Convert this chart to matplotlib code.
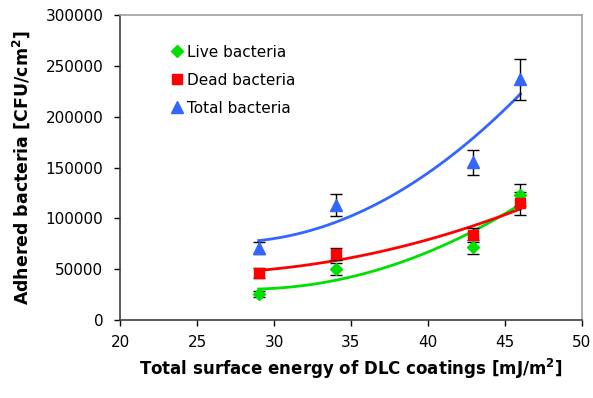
import matplotlib
matplotlib.use("Agg")
import matplotlib.pyplot as plt
from matplotlib.lines import Line2D
import numpy as np

plt.rcParams['font.family'] = ['DejaVu Sans']

# surface energy of the coatings
energy = [29.0, 34.0, 42.9, 46.0]

live = [25600, 49900, 72100, 122900]
live_err = [3000, 6000, 7000, 11000]
dead = [45900, 64900, 83600, 114700]
dead_err = [5000, 5800, 6500, 11000]
total = [70500, 113100, 155100, 236700]
total_err = [6000, 10700, 12000, 20600]

labels = ["Live bacteria", "Dead bacteria", "Total bacteria"]

fig = plt.figure(figsize=(5.93, 3.98), dpi=100)
ax = fig.add_axes([0.2024, 0.196, 0.779, 0.766])

series = [
    (live, live_err, '#00e000', 'D', 6),
    (dead, dead_err, '#ff0000', 's', 7),
    (total, total_err, '#3366ff', '^', 8.5),
]

xs = np.linspace(energy[0], energy[-1], 100)
handles = []
for (vals, err, col, mk, ms), lab in zip(series, labels):
    # polynomial trend line (2nd order)
    coef = np.polyfit(energy, vals, 2)
    ax.plot(xs, np.polyval(coef, xs), color=col, lw=2, zorder=2)
    ax.errorbar(energy, vals, yerr=err, fmt='none', ecolor='black',
                elinewidth=1, capsize=4.5, capthick=1, zorder=3)
    ax.plot(energy, vals, linestyle='none', marker=mk, ms=ms, color=col,
            markeredgecolor=col, zorder=4)
    handles.append(Line2D([], [], linestyle='none', marker=mk, ms=ms,
                          color=col, markeredgecolor=col, label=lab))

ax.set_xlim(20, 50)
ax.set_ylim(0, 300000)
ax.set_xticks(range(20, 51, 5))
ax.set_yticks(range(0, 300001, 50000))
ax.tick_params(direction='out', length=4, width=1, labelsize=11)
ax.tick_params(axis='y', pad=8)
ax.tick_params(axis='x', pad=7)

ax.spines['left'].set_color('#404040')
ax.spines['bottom'].set_color('#404040')
ax.spines['top'].set_color('#a0a0a0')
ax.spines['right'].set_color('#a0a0a0')
for s in ax.spines.values():
    s.set_linewidth(1.2)

ax.set_xlabel("Total surface energy of DLC coatings [mJ/m$^\\mathregular{2}$]",
              fontsize=12, fontweight='bold', labelpad=5)
ax.set_ylabel("Adhered bacteria [CFU/cm$^\\mathregular{2}$]",
              fontsize=12.5, fontweight='bold', labelpad=10)

ax.legend(handles=handles, loc='upper left', bbox_to_anchor=(0.108, 0.903),
          frameon=False, fontsize=11, handlelength=0.9, handletextpad=0.2,
          labelspacing=0.85, borderaxespad=0, borderpad=0)

fig.savefig("out.png", dpi=100)
